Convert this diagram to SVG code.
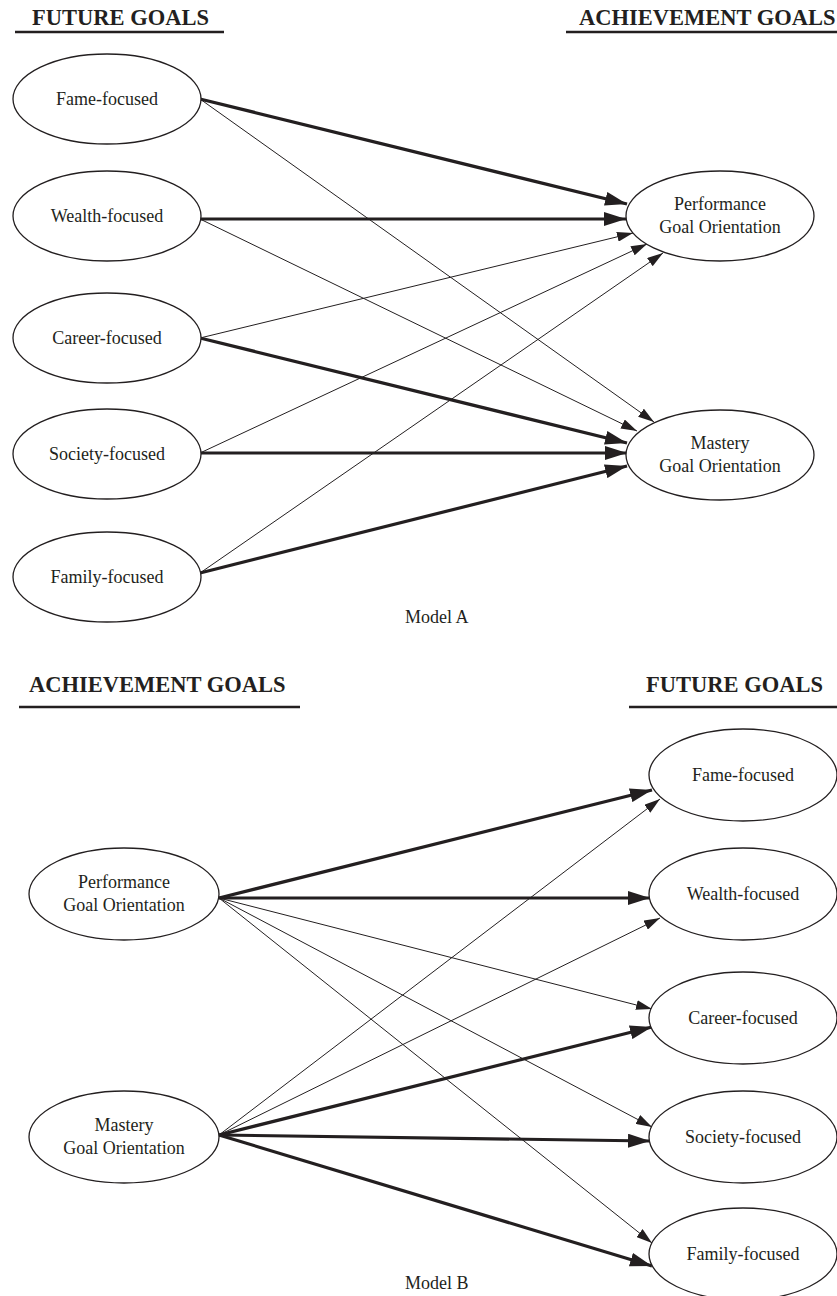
<svg xmlns="http://www.w3.org/2000/svg" width="837" height="1296" viewBox="0 0 837 1296">
<style>
.n{fill:#fff;stroke:#231f20;stroke-width:1.3}
.t{font-family:"Liberation Serif","Times New Roman",serif;font-size:18px;fill:#231f20;text-anchor:middle}
.h{font-family:"Liberation Serif","Times New Roman",serif;font-size:22.5px;font-weight:bold;fill:#231f20}
.u{stroke:#231f20;stroke-width:2.5}
.thin{stroke:#231f20;stroke-width:1;fill:none;marker-end:url(#sm)}
.thick{stroke:#231f20;stroke-width:3.2;fill:none;marker-end:url(#bg)}
.cap{font-family:"Liberation Serif","Times New Roman",serif;font-size:18px;fill:#231f20}
</style>
<defs>
<marker id="bg" markerUnits="userSpaceOnUse" markerWidth="22" markerHeight="14" refX="22" refY="7" orient="auto"><path d="M0,0 L22,7 L0,14 z" fill="#231f20"/></marker>
<marker id="sm" markerUnits="userSpaceOnUse" markerWidth="16" markerHeight="10" refX="16" refY="5" orient="auto"><path d="M0,0 L16,5 L0,10 z" fill="#231f20"/></marker>
</defs>
<rect width="837" height="1296" fill="#fff"/>
<g id="headings">
<text class="h" x="32" y="25">FUTURE GOALS</text>
<line class="u" x1="15" y1="32" x2="224" y2="32"/>
<text class="h" x="579" y="25">ACHIEVEMENT GOALS</text>
<line class="u" x1="566" y1="32" x2="837" y2="32"/>
<text class="h" x="29" y="692">ACHIEVEMENT GOALS</text>
<line class="u" x1="19" y1="707" x2="300" y2="707"/>
<text class="h" x="646" y="692">FUTURE GOALS</text>
<line class="u" x1="629" y1="707" x2="837" y2="707"/>
<text class="cap" x="405" y="623">Model A</text>
<text class="cap" x="405" y="1289">Model B</text>
</g>
<g id="connectors">
<line class="thick" x1="200" y1="99" x2="627" y2="204"/>
<line class="thin" x1="200" y1="99" x2="654" y2="422"/>
<line class="thick" x1="200" y1="219" x2="626" y2="219"/>
<line class="thin" x1="200" y1="219" x2="637" y2="431"/>
<line class="thin" x1="200" y1="338" x2="633" y2="233"/>
<line class="thick" x1="200" y1="338" x2="627" y2="443"/>
<line class="thin" x1="200" y1="453" x2="647" y2="244"/>
<line class="thick" x1="200" y1="453" x2="627" y2="453"/>
<line class="thin" x1="200" y1="573" x2="663" y2="253"/>
<line class="thick" x1="200" y1="573" x2="627" y2="466"/>
<line class="thick" x1="219" y1="898" x2="652" y2="790"/>
<line class="thick" x1="219" y1="898" x2="650" y2="898"/>
<line class="thin" x1="219" y1="898" x2="652" y2="1009"/>
<line class="thin" x1="219" y1="898" x2="652" y2="1127"/>
<line class="thin" x1="219" y1="898" x2="652" y2="1243"/>
<line class="thin" x1="219" y1="1135" x2="660" y2="799"/>
<line class="thin" x1="219" y1="1135" x2="660" y2="918"/>
<line class="thick" x1="219" y1="1135" x2="652" y2="1027"/>
<line class="thick" x1="219" y1="1135" x2="650" y2="1141"/>
<line class="thick" x1="219" y1="1135" x2="652" y2="1266"/>
</g>
<g id="a-fame"><ellipse class="n" cx="107" cy="99" rx="94" ry="45"/><text class="t" x="107" y="105">Fame-focused</text></g>
<g id="a-wealth"><ellipse class="n" cx="107" cy="216" rx="94" ry="45"/><text class="t" x="107" y="222">Wealth-focused</text></g>
<g id="a-career"><ellipse class="n" cx="107" cy="338" rx="94" ry="45"/><text class="t" x="107" y="344">Career-focused</text></g>
<g id="a-society"><ellipse class="n" cx="107" cy="454" rx="94" ry="45"/><text class="t" x="107" y="460">Society-focused</text></g>
<g id="a-family"><ellipse class="n" cx="107" cy="577" rx="94" ry="45"/><text class="t" x="107" y="583">Family-focused</text></g>
<g id="a-performance"><ellipse class="n" cx="720" cy="216" rx="94" ry="45"/><text class="t" x="720" y="210">Performance</text><text class="t" x="720" y="233">Goal Orientation</text></g>
<g id="a-mastery"><ellipse class="n" cx="720" cy="455" rx="94" ry="45"/><text class="t" x="720" y="449">Mastery</text><text class="t" x="720" y="472">Goal Orientation</text></g>
<g id="b-performance"><ellipse class="n" cx="124" cy="894" rx="95" ry="46"/><text class="t" x="124" y="888">Performance</text><text class="t" x="124" y="911">Goal Orientation</text></g>
<g id="b-mastery"><ellipse class="n" cx="124" cy="1137" rx="95" ry="46"/><text class="t" x="124" y="1131">Mastery</text><text class="t" x="124" y="1154">Goal Orientation</text></g>
<g id="b-fame"><ellipse class="n" cx="743" cy="775" rx="94" ry="46"/><text class="t" x="743" y="781">Fame-focused</text></g>
<g id="b-wealth"><ellipse class="n" cx="743" cy="894" rx="94" ry="46"/><text class="t" x="743" y="900">Wealth-focused</text></g>
<g id="b-career"><ellipse class="n" cx="743" cy="1018" rx="94" ry="46"/><text class="t" x="743" y="1024">Career-focused</text></g>
<g id="b-society"><ellipse class="n" cx="743" cy="1137" rx="94" ry="46"/><text class="t" x="743" y="1143">Society-focused</text></g>
<g id="b-family"><ellipse class="n" cx="743" cy="1254" rx="94" ry="46"/><text class="t" x="743" y="1260">Family-focused</text></g>
</svg>
